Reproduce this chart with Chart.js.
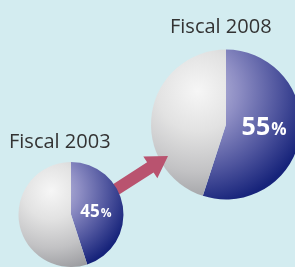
<!DOCTYPE html>
<html>
<head>
<meta charset="utf-8">
<script src="https://cdn.jsdelivr.net/npm/chart.js@4"></script>
<style>
    html, body { margin: 0; padding: 0; }
    body { width: 295px; height: 267px; overflow: hidden; position: relative; background: #d3ecf0; }
    canvas { position: absolute; left: 0; top: 0; }
    #bigPie { width: 310px; height: 267px; }
    #smallPie { width: 295px; height: 267px; }
</style>
</head>
<body>
<canvas id="bigPie" width="310" height="267"></canvas>
<canvas id="smallPie" width="295" height="267"></canvas>
<script>
// ---------- Data ----------

const years = ["Fiscal 2003", "Fiscal 2008"];
const shareLabels = ["Share", "Other"];
const share2003 = [45, 55];
const share2008 = [55, 45];

// ---------- Sphere shading ----------

function sphereFill(context) {
    const chart = context.chart;
    const a = chart.chartArea;
    if (!a) return "#888";
    const cx = (a.left + a.right) / 2;
    const cy = (a.top + a.bottom) / 2;
    const r = Math.min(a.right - a.left, a.bottom - a.top) / 2;
    const hx = cx - 0.38 * r;
    const hy = cy - 0.45 * r;
    const g = chart.ctx.createRadialGradient(hx, hy, 0, hx, hy, 1.55 * r);
    if (context.dataIndex === 0) {
        g.addColorStop(0, "#c4c4e2");
        g.addColorStop(0.35, "#8e8ec4");
        g.addColorStop(0.7, "#4f559e");
        g.addColorStop(1, "#16237a");
    } else {
        g.addColorStop(0, "#f6f6f6");
        g.addColorStop(0.35, "#e2e2e2");
        g.addColorStop(0.7, "#c2c2c4");
        g.addColorStop(1, "#9a9b9f");
    }
    return g;
}

// ---------- Labels ----------

const labelPlugin = {
    id: "sphereLabels",
    afterDatasetsDraw(chart, args, opts) {
        const ctx = chart.ctx;
        const arc = chart.getDatasetMeta(0).data[0];
        const pos = arc.tooltipPosition();
        const value = chart.data.datasets[0].data[0];
        const big = opts.size;
        const small = Math.round(big * 0.68);
        ctx.save();
        ctx.fillStyle = "#ffffff";
        ctx.textBaseline = "alphabetic";
        ctx.font = "bold " + big + "px 'Open Sans'";
        const numW = ctx.measureText(String(value)).width;
        ctx.font = "bold " + small + "px 'Open Sans'";
        const pctW = ctx.measureText("%").width;
        const x0 = pos.x + opts.dx - (numW + pctW + 1) / 2;
        const y0 = pos.y + opts.dy + big * 0.36;
        ctx.font = "bold " + big + "px 'Open Sans'";
        ctx.textAlign = "left";
        ctx.fillText(String(value), x0, y0);
        ctx.font = "bold " + small + "px 'Open Sans'";
        ctx.fillText("%", x0 + numW + 1, y0);

        ctx.fillStyle = "#333333";
        ctx.font = "20px 'Open Sans'";
        ctx.fillText(opts.title, opts.tx, opts.ty);
        ctx.restore();
    }
};

// arrow between the spheres, drawn on the big chart so the small sphere covers its tail
const arrowPlugin = {
    id: "growthArrow",
    afterDatasetsDraw(chart) {
        const ctx = chart.ctx;
        const x1 = 112, y1 = 192, x2 = 168, y2 = 156;
        const ang = Math.atan2(y2 - y1, x2 - x1);
        const len = Math.hypot(x2 - x1, y2 - y1);
        const shaft = 6, head = 13, headLen = 21;
        ctx.save();
        ctx.translate(x1, y1);
        ctx.rotate(ang);
        ctx.beginPath();
        ctx.moveTo(0, -shaft);
        ctx.lineTo(len - headLen, -shaft);
        ctx.lineTo(len - headLen, -head);
        ctx.lineTo(len, 0);
        ctx.lineTo(len - headLen, head);
        ctx.lineTo(len - headLen, shaft);
        ctx.lineTo(0, shaft);
        ctx.closePath();
        ctx.fillStyle = "#b9536f";
        ctx.fill();
        ctx.restore();
    }
};

function makePie(id, values, padding, labelOpts, extra) {
    return new Chart(document.getElementById(id), {
        type: "pie",
        data: {
            labels: shareLabels,
            datasets: [{
                data: values,
                backgroundColor: sphereFill,
                borderWidth: 0
            }]
        },
        options: {
            responsive: false,
            animation: false,
            layout: { padding: padding },
            plugins: {
                legend: { display: false },
                tooltip: { enabled: false },
                sphereLabels: labelOpts
            }
        },
        plugins: [labelPlugin].concat(extra)
    });
}

makePie("bigPie", share2008,
    { left: 151, right: 9, top: 49.5, bottom: 67.5 },
    { size: 25, dx: 1, dy: -4, title: years[1], tx: 170, ty: 33 },
    [arrowPlugin]);

makePie("smallPie", share2003,
    { left: 18, right: 171, top: 162, bottom: 0 },
    { size: 17, dx: -1, dy: 0, title: years[0], tx: 9, ty: 148 },
    []);
</script>
</body>
</html>
